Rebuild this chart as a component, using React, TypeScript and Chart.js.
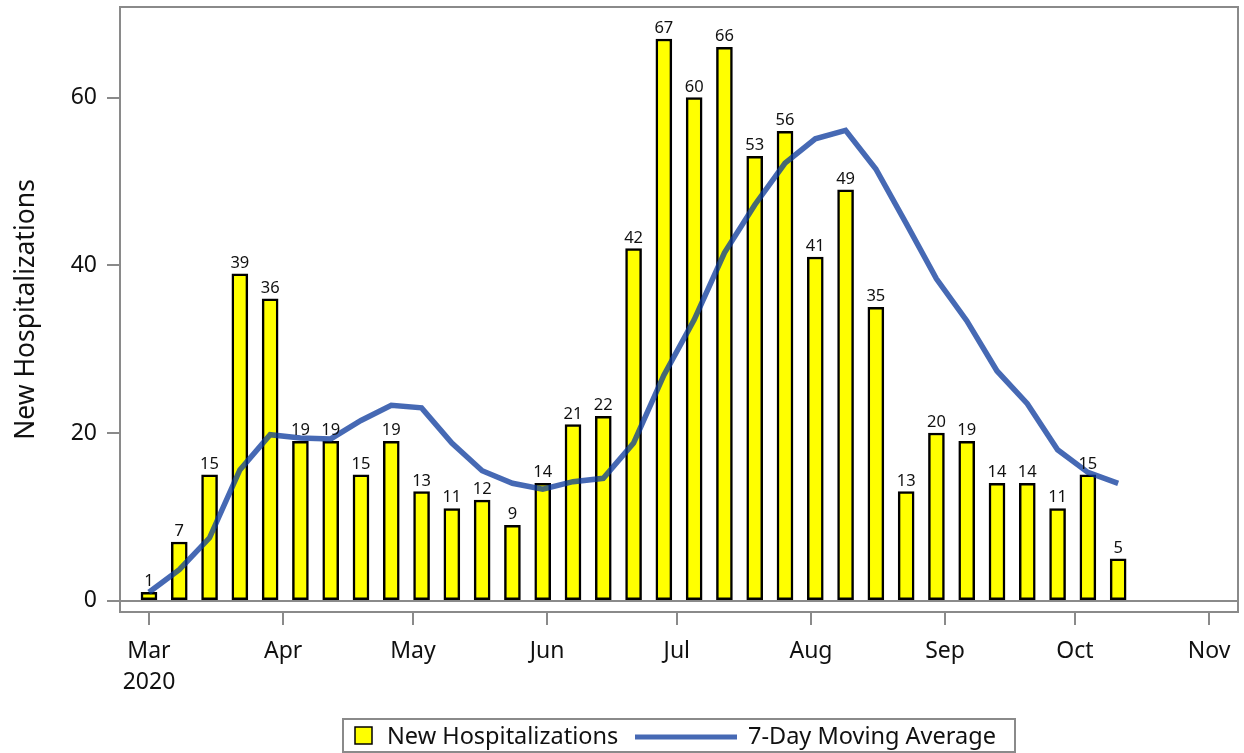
import React, { useEffect, useRef } from "react";
import { Chart, registerables } from "chart.js";

Chart.register(...registerables);

// ---------- DATA ----------
const weekDates = [
  "2020-03-01", "2020-03-08", "2020-03-15", "2020-03-22", "2020-03-29",
  "2020-04-05", "2020-04-12", "2020-04-19", "2020-04-26", "2020-05-03",
  "2020-05-10", "2020-05-17", "2020-05-24", "2020-05-31", "2020-06-07",
  "2020-06-14", "2020-06-21", "2020-06-28", "2020-07-05", "2020-07-12",
  "2020-07-19", "2020-07-26", "2020-08-02", "2020-08-09", "2020-08-16",
  "2020-08-23", "2020-08-30", "2020-09-06", "2020-09-13", "2020-09-20",
  "2020-09-27", "2020-10-04", "2020-10-11",
];

const newHospitalizations = [
  1, 7, 15, 39, 36, 19, 19, 15, 19, 13, 11, 12, 9, 14, 21, 22, 42, 67, 60, 66,
  53, 56, 41, 49, 35, 13, 20, 19, 14, 14, 11, 15, 5,
];

const movingAverage = [
  1.0, 3.7, 7.5, 15.6, 19.8, 19.4, 19.3, 21.5, 23.3, 23.0, 18.8, 15.5, 14.0,
  13.3, 14.2, 14.6, 18.8, 26.9, 33.5, 41.5, 47.2, 52.2, 55.1, 56.1, 51.5, 45.0,
  38.4, 33.4, 27.4, 23.5, 18.0, 15.3, 14.0,
];

const monthTickDates = [
  "2020-03-01", "2020-04-01", "2020-05-01", "2020-06-01", "2020-07-01",
  "2020-08-01", "2020-09-01", "2020-10-01", "2020-11-01",
];
const monthTickLabels: (string | string[])[] = [
  ["Mar", "2020"], "Apr", "May", "Jun", "Jul", "Aug", "Sep", "Oct", "Nov",
];
const yTickValues = [0, 20, 40, 60];

const barLabel = "New Hospitalizations";
const lineLabel = "7-Day Moving Average";
const yTitle = "New Hospitalizations";

// ---------- HELPERS ----------
const FONT = "'Noto Sans', 'DejaVu Sans', sans-serif";
const ORIGIN = Date.UTC(2020, 2, 1);
const dayOf = (s: string) => {
  const [y, m, d] = s.split("-").map(Number);
  return (Date.UTC(y, m - 1, d) - ORIGIN) / 86400000;
};

const FRAME = "#8a8a8a";
const BAR_FILL = "#ffff00";
const LINE_COLOR = "rgba(8, 55, 155, 0.75)";
const TEXT = "#111111";

export default function App() {
  const canvasRef = useRef<HTMLCanvasElement | null>(null);

  useEffect(() => {
    const canvas = canvasRef.current;
    if (!canvas) return;

    const barData = weekDates.map((d, i) => ({ x: dayOf(d), y: newHospitalizations[i] }));
    const lineData = weekDates.map((d, i) => ({ x: dayOf(d), y: movingAverage[i] }));
    const xTicks = monthTickDates.map(dayOf);

    const decorPlugin = {
      id: "decor",
      afterDatasetsDraw(chart: any) {
        const ctx = chart.ctx;
        const meta = chart.getDatasetMeta(0);
        ctx.save();
        ctx.fillStyle = TEXT;
        ctx.font = `16.5px ${FONT}`;
        ctx.textAlign = "center";
        ctx.textBaseline = "alphabetic";
        meta.data.forEach((el: any, i: number) => {
          ctx.fillText(String(newHospitalizations[i]), el.x, el.y - 6);
        });
        ctx.restore();
      },
      afterDraw(chart: any) {
        const ctx = chart.ctx;
        const a = chart.chartArea;
        ctx.save();
        // frame
        ctx.strokeStyle = FRAME;
        ctx.lineWidth = 2;
        ctx.strokeRect(a.left, a.top, a.right - a.left, a.bottom - a.top);

        // y title
        ctx.save();
        ctx.translate(26, (a.top + a.bottom) / 2);
        ctx.rotate(-Math.PI / 2);
        ctx.fillStyle = TEXT;
        ctx.font = `26.5px ${FONT}`;
        ctx.textAlign = "center";
        ctx.textBaseline = "middle";
        ctx.fillText(yTitle, 0, 0);
        ctx.restore();

        // legend
        ctx.strokeStyle = FRAME;
        ctx.lineWidth = 2;
        ctx.strokeRect(343, 719, 672, 33);
        ctx.fillStyle = BAR_FILL;
        ctx.fillRect(355, 727, 17, 17);
        ctx.strokeStyle = "#000";
        ctx.lineWidth = 1.5;
        ctx.strokeRect(355, 727, 17, 17);
        ctx.fillStyle = TEXT;
        ctx.font = `23.5px ${FONT}`;
        ctx.textAlign = "left";
        ctx.textBaseline = "alphabetic";
        ctx.fillText(barLabel, 387, 744);
        ctx.strokeStyle = LINE_COLOR;
        ctx.lineWidth = 5;
        ctx.beginPath();
        ctx.moveTo(635, 737);
        ctx.lineTo(737, 737);
        ctx.stroke();
        ctx.fillText(lineLabel, 748, 744);
        ctx.restore();
      },
    };

    const chart = new Chart(canvas, {
      type: "bar",
      data: {
        datasets: [
          {
            type: "bar",
            label: barLabel,
            data: barData as any,
            backgroundColor: BAR_FILL,
            borderColor: "#000000",
            borderWidth: 2.5,
            borderSkipped: false,
            barThickness: 16,
            order: 2,
          } as any,
          {
            type: "line",
            label: lineLabel,
            data: lineData as any,
            borderColor: LINE_COLOR,
            borderWidth: 5.5,
            pointRadius: 0,
            tension: 0,
            fill: false,
            order: 1,
          } as any,
        ],
      },
      options: {
        responsive: false,
        animation: false,
        events: [],
        layout: { padding: { top: 7, right: 6, left: 0, bottom: 0 } },
        plugins: {
          legend: { display: false },
          tooltip: { enabled: false },
          title: { display: false },
        },
        scales: {
          x: {
            type: "linear",
            min: -6.7,
            max: 251.7,
            offset: false,
            border: { display: false },
            grid: {
              offset: false,
              drawOnChartArea: false,
              drawTicks: true,
              tickLength: 13,
              color: FRAME,
              tickColor: FRAME,
              lineWidth: 2,
            },
            ticks: {
              autoSkip: false,
              maxRotation: 0,
              minRotation: 0,
              padding: 11,
              color: TEXT,
              font: { family: FONT, size: 23, lineHeight: 1.35 },
              callback: (_v: any, i: number) => monthTickLabels[i],
            },
            afterBuildTicks: (scale: any) => {
              scale.ticks = xTicks.map((v) => ({ value: v }));
            },
            afterFit: (scale: any) => {
              scale.height = 141;
              scale.paddingLeft = 0;
              scale.paddingRight = 0;
            },
          } as any,
          y: {
            type: "linear",
            min: -1.35,
            max: 70.82,
            border: { display: false },
            grid: {
              drawOnChartArea: true,
              drawTicks: true,
              tickLength: 13,
              lineWidth: 2,
              color: (c: any) => (c.tick && c.tick.value === 0 ? FRAME : "rgba(0,0,0,0)"),
              tickColor: FRAME,
            },
            ticks: {
              padding: 10,
              color: TEXT,
              font: { family: FONT, size: 23 },
              callback: (v: any) => String(v),
            },
            afterBuildTicks: (scale: any) => {
              scale.ticks = yTickValues.map((v) => ({ value: v }));
            },
            afterFit: (scale: any) => {
              scale.width = 120;
              scale.paddingTop = 0;
              scale.paddingBottom = 0;
            },
          } as any,
        },
      },
      plugins: [decorPlugin],
    });

    return () => chart.destroy();
  }, []);

  return (
    <div style={{ position: "fixed", left: 0, top: 0, width: 1244, height: 753, background: "#fff" }}>
      <canvas ref={canvasRef} width={1244} height={753} style={{ width: 1244, height: 753, display: "block" }} />
    </div>
  );
}
